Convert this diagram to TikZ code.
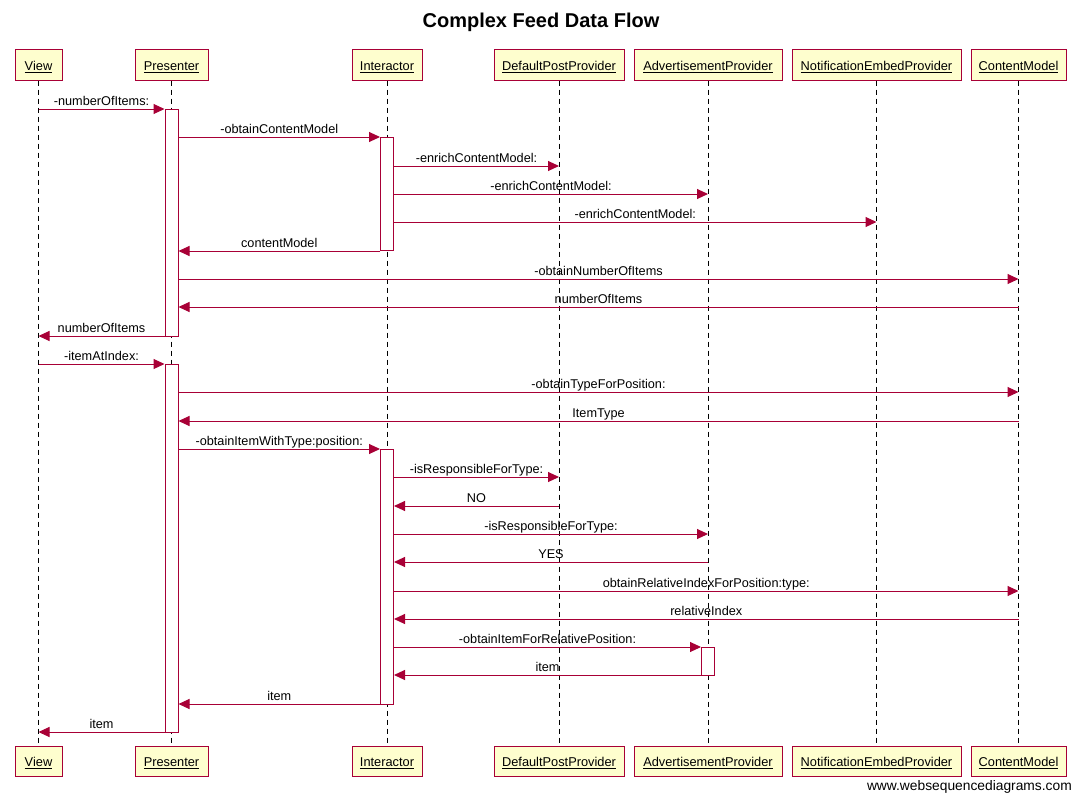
\documentclass[tikz,border=0pt]{standalone}
\usepackage{fontspec}
\setmainfont{Liberation Sans}
\usetikzlibrary{arrows.meta}
\definecolor{wsdred}{HTML}{A80036}
\definecolor{wsdfill}{HTML}{FEFECE}
\newcommand{\pname}[1]{\raisebox{-5.5pt}[0pt][0pt]{\underline{#1}}}
\begin{document}
\begin{tikzpicture}[x=1pt,y=-1pt,
  part/.style={draw=wsdred, fill=wsdfill, line width=1pt, minimum height=30pt, inner sep=0pt, font=\fontsize{12.8}{15}\selectfont},
  life/.style={draw=black, line width=1pt, dash pattern=on 5pt off 4pt},
  actbox/.style={draw=wsdred, fill=white, line width=1pt, minimum width=13pt, inner sep=0pt},
  msg/.style={draw=wsdred, line width=1pt, -{Triangle[length=11pt,width=10pt]}},
  lbl/.style={midway, anchor=base, yshift=4pt, inner sep=0pt, font=\fontsize{12.7}{15}\selectfont, text=black}
]
\path[use as bounding box, fill=white] (0,0) rectangle (1081,800);
\node[font=\bfseries\fontsize{20}{24}\selectfont] (title) at (541,22) {Complex Feed Data Flow};

% top participants
\node[part, minimum width=47pt]  (V)  at (38.5,65) {\pname{View}};
\node[part, minimum width=73pt]  (P)  at (171.5,65) {\pname{Presenter}};
\node[part, minimum width=70pt]  (I)  at (387,65) {\pname{Interactor}};
\node[part, minimum width=130pt] (D)  at (559,65) {\pname{DefaultPostProvider}};
\node[part, minimum width=148pt] (A)  at (708,65) {\pname{AdvertisementProvider}};
\node[part, minimum width=169pt] (N)  at (876.5,65) {\pname{NotificationEmbedProvider}};
\node[part, minimum width=95pt]  (C)  at (1018.5,65) {\pname{ContentModel}};
% bottom participants
\node[part, minimum width=47pt]  (Vb) at (38.5,761) {\pname{View}};
\node[part, minimum width=73pt]  (Pb) at (171.5,761) {\pname{Presenter}};
\node[part, minimum width=70pt]  (Ib) at (387,761) {\pname{Interactor}};
\node[part, minimum width=130pt] (Db) at (559,761) {\pname{DefaultPostProvider}};
\node[part, minimum width=148pt] (Ab) at (708,761) {\pname{AdvertisementProvider}};
\node[part, minimum width=169pt] (Nb) at (876.5,761) {\pname{NotificationEmbedProvider}};
\node[part, minimum width=95pt]  (Cb) at (1018.5,761) {\pname{ContentModel}};

% lifelines
\foreach \t in {V,P,I,D,A,N,C} \draw[life] (\t.south) -- (\t b.north);

% activations
\node[actbox, minimum height=227pt] (pa1) at (171.5,222.5) {};
\node[actbox, minimum height=368pt] (pa2) at (171.5,548) {};
\node[actbox, minimum height=113pt] (ia1) at (387,193.5) {};
\node[actbox, minimum height=255pt] (ia2) at (387,576.5) {};
\node[actbox, minimum height=28pt]  (aa1) at (708,661) {};

% messages
\draw[msg] (V |- 0,109) -- (pa1.west |- 0,109) node[lbl] {-numberOfItems:};
\draw[msg] (pa1.east |- 0,137) -- (ia1.west |- 0,137) node[lbl] {-obtainContentModel};
\draw[msg] (ia1.east |- 0,166) -- (D |- 0,166) node[lbl] {-enrichContentModel:};
\draw[msg] (ia1.east |- 0,194) -- (A |- 0,194) node[lbl] {-enrichContentModel:};
\draw[msg] (ia1.east |- 0,222) -- (N |- 0,222) node[lbl] {-enrichContentModel:};
\draw[msg] (ia1.west |- 0,251) -- (pa1.east |- 0,251) node[lbl] {contentModel};
\draw[msg] (pa1.east |- 0,279) -- (C |- 0,279) node[lbl] {-obtainNumberOfItems};
\draw[msg] (C |- 0,307) -- (pa1.east |- 0,307) node[lbl] {numberOfItems};
\draw[msg] (pa1.west |- 0,336) -- (V |- 0,336) node[lbl] {numberOfItems};
\draw[msg] (V |- 0,364) -- (pa2.west |- 0,364) node[lbl] {-itemAtIndex:};
\draw[msg] (pa2.east |- 0,392) -- (C |- 0,392) node[lbl] {-obtainTypeForPosition:};
\draw[msg] (C |- 0,421) -- (pa2.east |- 0,421) node[lbl] {ItemType};
\draw[msg] (pa2.east |- 0,449) -- (ia2.west |- 0,449) node[lbl] {-obtainItemWithType:position:};
\draw[msg] (ia2.east |- 0,477) -- (D |- 0,477) node[lbl] {-isResponsibleForType:};
\draw[msg] (D |- 0,506) -- (ia2.east |- 0,506) node[lbl] {NO};
\draw[msg] (ia2.east |- 0,534) -- (A |- 0,534) node[lbl] {-isResponsibleForType:};
\draw[msg] (A |- 0,562) -- (ia2.east |- 0,562) node[lbl] {YES};
\draw[msg] (ia2.east |- 0,591) -- (C |- 0,591) node[lbl] {obtainRelativeIndexForPosition:type:};
\draw[msg] (C |- 0,619) -- (ia2.east |- 0,619) node[lbl] {relativeIndex};
\draw[msg] (ia2.east |- 0,647) -- (aa1.west |- 0,647) node[lbl] {-obtainItemForRelativePosition:};
\draw[msg] (aa1.west |- 0,675) -- (ia2.east |- 0,675) node[lbl] {item};
\draw[msg] (ia2.west |- 0,704) -- (pa2.east |- 0,704) node[lbl] {item};
\draw[msg] (pa2.west |- 0,732) -- (V |- 0,732) node[lbl] {item};

\node[anchor=base east, inner sep=0pt, font=\fontsize{13.8}{16}\selectfont] (wm) at (1072,790) {www.websequencediagrams.com};
\end{tikzpicture}
\end{document}
